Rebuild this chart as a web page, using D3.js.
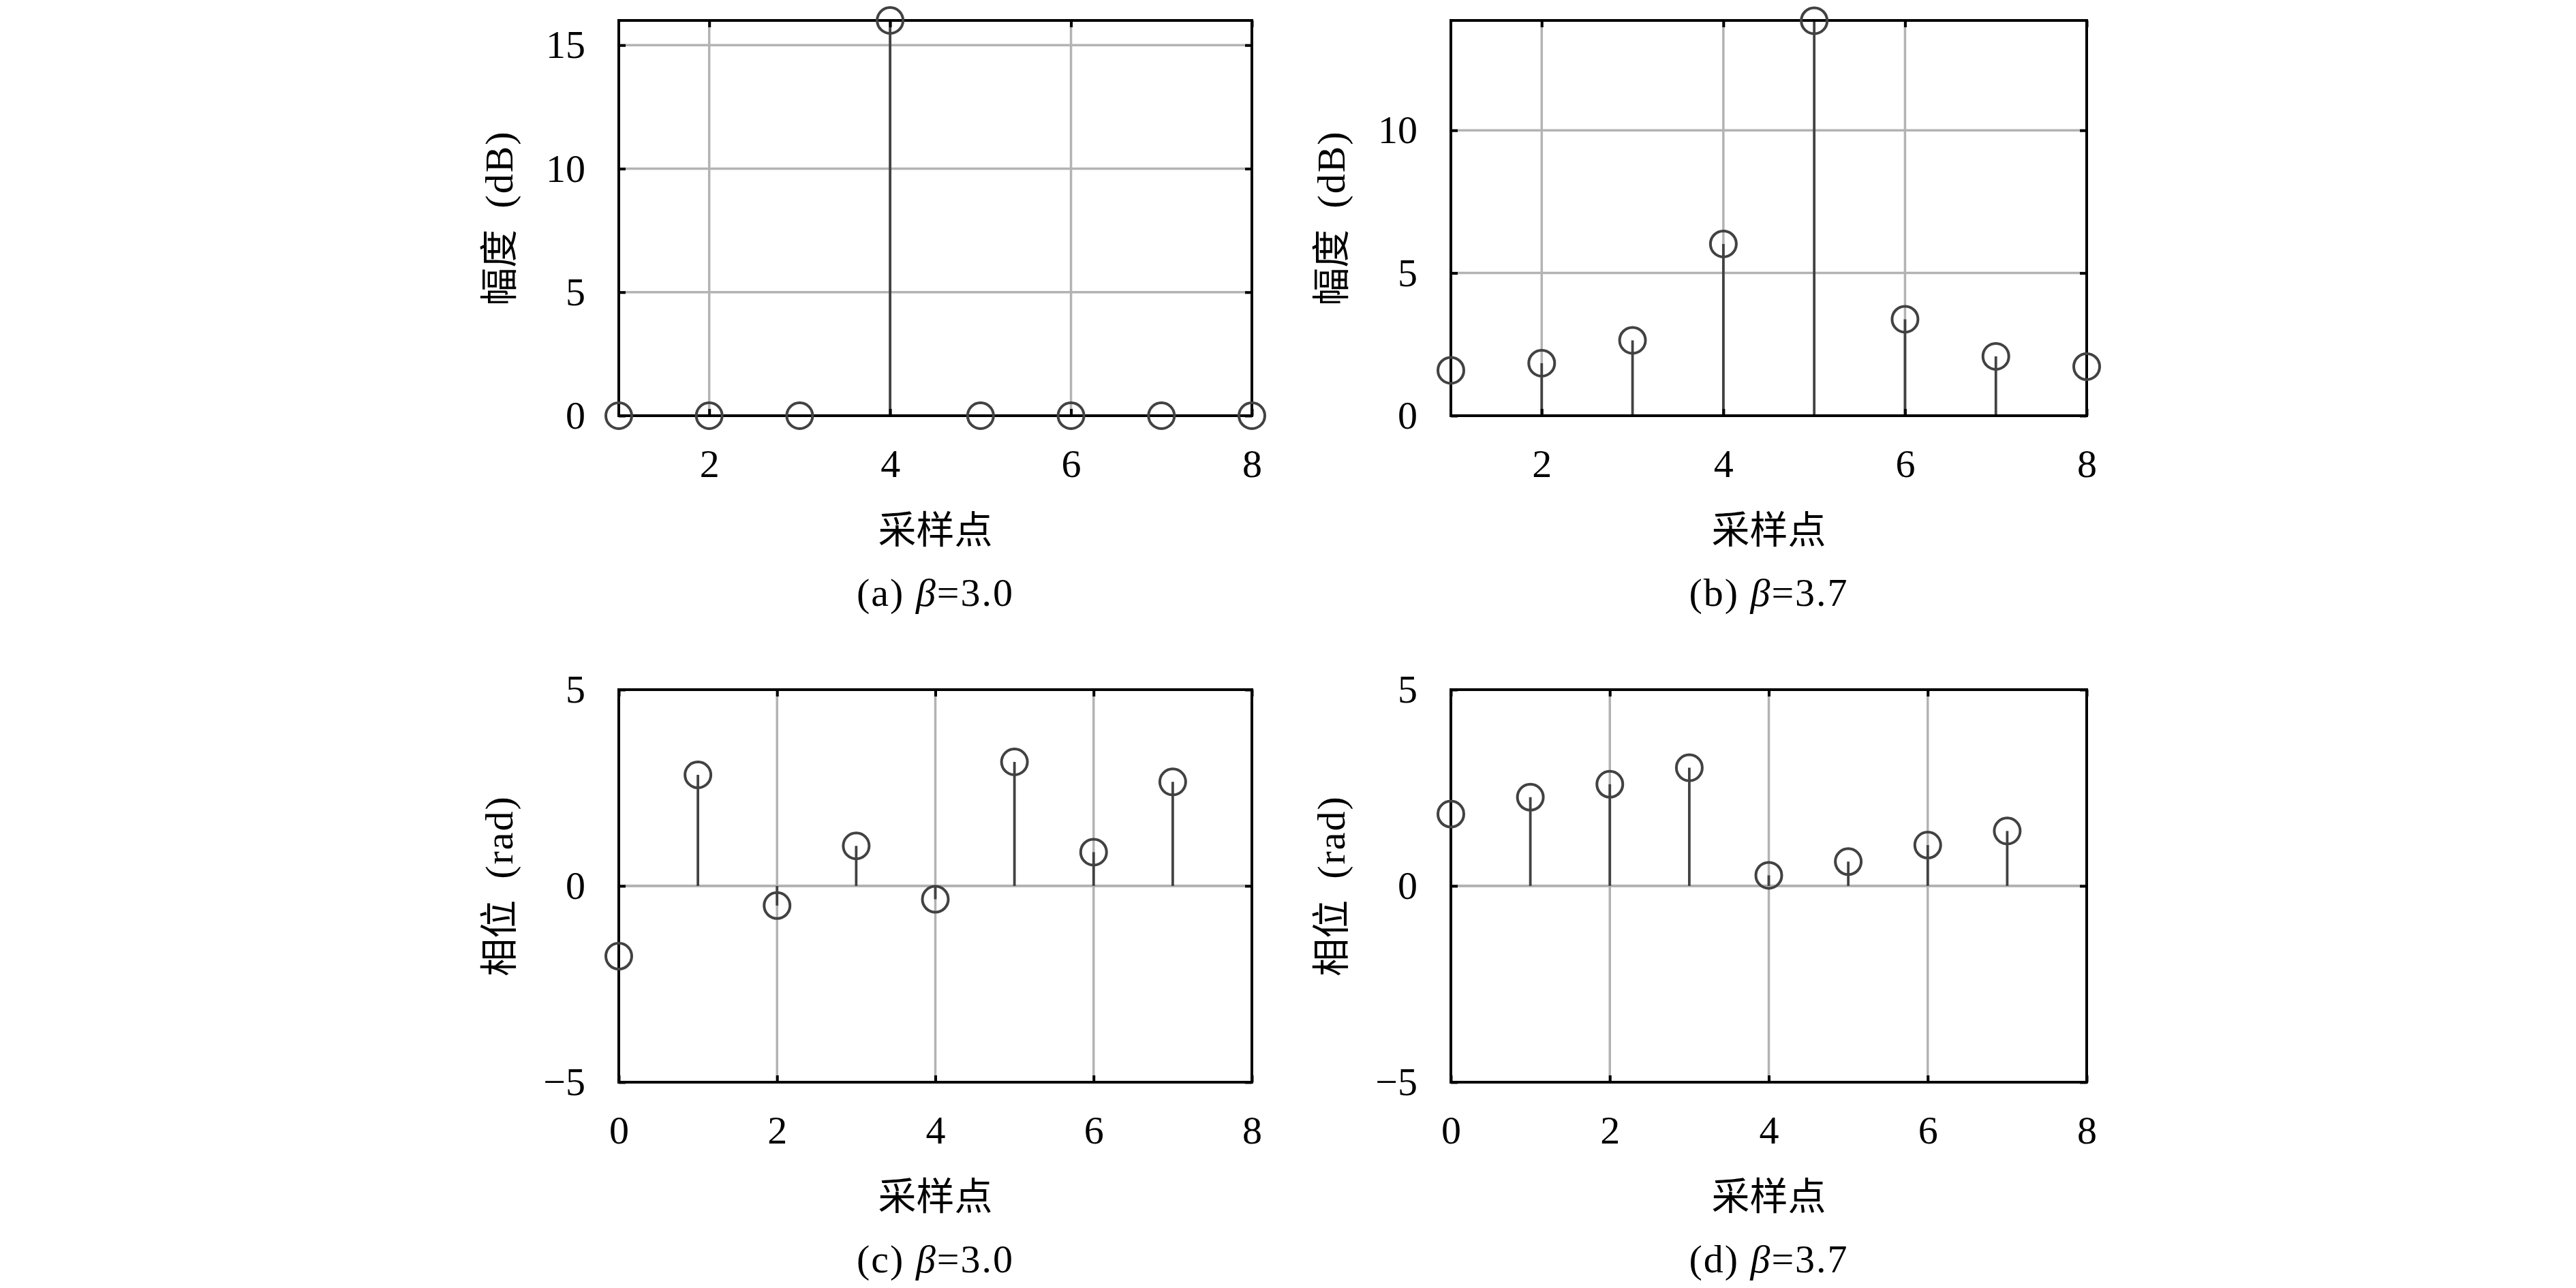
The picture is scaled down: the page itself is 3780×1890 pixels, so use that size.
<!DOCTYPE html>
<html>
<head>
<meta charset="utf-8">
<script src="https://cdn.jsdelivr.net/npm/d3@7"></script>
<style>
  html, body { margin: 0; padding: 0; background: #fff; }
  svg { display: block; }
</style>
</head>
<body>
<div id="chart"></div>
<script>
// Valores (amplitude em dB e fase em rad)
const ampX = [1, 2, 3, 4, 5, 6, 7, 8];
const ampA = [0, 0, 0, 16, 0, 0, 0, 0];
const ampB = [1.59, 1.84, 2.64, 6.02, 13.84, 3.38, 2.08, 1.72];

const phaseX = [0, 1, 2, 3, 4, 5, 6, 7];
const phaseC = [-1.79, 2.83, -0.50, 1.02, -0.34, 3.16, 0.86, 2.65];
const phaseD = [1.83, 2.26, 2.59, 3.01, 0.27, 0.62, 1.04, 1.40];

// Ticks e rótulos
const ampXTicks = [2, 4, 6, 8];
const ampYTicksA = [0, 5, 10, 15];
const ampYTicksB = [0, 5, 10];
const phaseXTicks = [0, 2, 4, 6, 8];
const phaseYTicks = [-5, 0, 5];
const xLabel = '采样点';
const ampLabel = ['幅度', '(dB)'];
const phaseLabel = ['相位', '(rad)'];
const captions = [['(a)', '3.0'], ['(b)', '3.7'], ['(c)', '3.0'], ['(d)', '3.7']];

const W = 3780, H = 1890;
const FS = 58;
const NUM_FONT = '"Liberation Serif", "DejaVu Serif", serif';
const CJK_FONT = '"Noto Sans CJK SC", sans-serif';
const STEM = '#424242';
const GRID = '#b3b3b3';

const svg = d3.select('#chart')
  .append('svg')
  .attr('width', W)
  .attr('height', H);

svg.append('rect').attr('width', W).attr('height', H).attr('fill', '#fff');

function drawPanel(box, cfg) {
  const x = d3.scaleLinear().domain(cfg.xDomain).range([box.left, box.right]);
  const y = d3.scaleLinear().domain(cfg.yDomain).range([box.bottom, box.top]);
  const g = svg.append('g');

  // Grade
  g.selectAll('.xgrid')
    .data(cfg.xGrid)
    .enter().append('line')
    .attr('x1', d => x(d)).attr('x2', d => x(d))
    .attr('y1', box.top).attr('y2', box.bottom)
    .attr('stroke', GRID).attr('stroke-width', 3.5);

  g.selectAll('.ygrid')
    .data(cfg.yGrid)
    .enter().append('line')
    .attr('x1', box.left).attr('x2', box.right)
    .attr('y1', d => y(d)).attr('y2', d => y(d))
    .attr('stroke', GRID).attr('stroke-width', 3.5);

  // Linha de base do stem (y = 0)
  g.append('line')
    .attr('x1', box.left).attr('x2', box.right)
    .attr('y1', y(0)).attr('y2', y(0))
    .attr('stroke', GRID).attr('stroke-width', 4);

  const pts = cfg.xs.map((v, i) => ({ x: v, y: cfg.ys[i] }));

  // Hastes
  g.selectAll('.stem')
    .data(pts)
    .enter().append('line')
    .attr('x1', d => x(d.x)).attr('x2', d => x(d.x))
    .attr('y1', y(0)).attr('y2', d => y(d.y))
    .attr('stroke', STEM).attr('stroke-width', 3.8);

  // Eixos (ticks para dentro nos quatro lados)
  const styleAxis = sel => {
    sel.select('.domain').remove();
    sel.selectAll('.tick line').attr('stroke', '#000').attr('stroke-width', 4);
    sel.selectAll('.tick text')
      .attr('fill', '#000')
      .style('font-family', NUM_FONT)
      .style('font-size', FS + 'px');
    sel.attr('font-size', null).attr('font-family', null);
  };

  g.append('g')
    .attr('transform', `translate(0,${box.bottom})`)
    .call(d3.axisBottom(x).tickValues(cfg.xTicks).tickSize(-10).tickPadding(49).tickFormat(d3.format('d')))
    .call(styleAxis);
  g.append('g')
    .attr('transform', `translate(0,${box.top})`)
    .call(d3.axisTop(x).tickValues(cfg.xTicks).tickSize(-10).tickFormat(''))
    .call(styleAxis);
  g.append('g')
    .attr('transform', `translate(${box.left},0)`)
    .call(d3.axisLeft(y).tickValues(cfg.yTicks).tickSize(-10).tickPadding(49)
      .tickFormat(d => d < 0 ? '\u2212' + Math.abs(d) : d))
    .call(styleAxis);
  g.append('g')
    .attr('transform', `translate(${box.right},0)`)
    .call(d3.axisRight(y).tickValues(cfg.yTicks).tickSize(-10).tickFormat(''))
    .call(styleAxis);

  // Moldura
  g.append('rect')
    .attr('x', box.left).attr('y', box.top)
    .attr('width', box.right - box.left).attr('height', box.bottom - box.top)
    .attr('fill', 'none').attr('stroke', '#000').attr('stroke-width', 4);

  // Marcadores (círculos vazados)
  g.selectAll('.pt')
    .data(pts)
    .enter().append('circle')
    .attr('cx', d => x(d.x)).attr('cy', d => y(d.y))
    .attr('r', 19)
    .attr('fill', 'none')
    .attr('stroke', STEM).attr('stroke-width', 4);

  const cx = (box.left + box.right) / 2;

  // Rótulo do eixo X
  g.append('text')
    .attr('x', cx).attr('y', box.bottom + 187)
    .attr('text-anchor', 'middle')
    .style('font-family', CJK_FONT).style('font-size', (FS - 2) + 'px')
    .text(xLabel);

  // Rótulo do eixo Y (rotacionado)
  const cy = (box.top + box.bottom) / 2;
  const yl = g.append('text')
    .attr('transform', `translate(${box.left - 177},${cy}) rotate(-90)`)
    .attr('text-anchor', 'middle')
    .attr('dy', '0.36em')
    .style('font-size', FS + 'px');
  yl.append('tspan').style('font-family', CJK_FONT).style('font-size', (FS - 2) + 'px').text(cfg.ylabel[0]);
  yl.append('tspan').style('font-family', NUM_FONT).style('letter-spacing', '2px').text('\u2002' + cfg.ylabel[1]);

  // Legenda do painel
  const cap = g.append('text')
    .attr('x', cx).attr('y', box.bottom + 279)
    .attr('text-anchor', 'middle')
    .style('font-family', NUM_FONT).style('font-size', FS + 'px')
    .style('letter-spacing', '2px');
  cap.append('tspan').text(cfg.caption[0] + '\u00a0');
  cap.append('tspan').style('font-style', 'italic').text('β');
  cap.append('tspan').text('=' + cfg.caption[1]);
}

const colL = { left: 908, right: 1837 };
const colR = { left: 2129, right: 3062 };
const rowT = { top: 30, bottom: 610 };
const rowB = { top: 1012, bottom: 1588 };

drawPanel({ ...colL, ...rowT }, {
  xDomain: [1, 8], yDomain: [0, 16], xTicks: ampXTicks, yTicks: ampYTicksA,
  xGrid: [2, 4, 6], yGrid: [5, 10, 15], xs: ampX, ys: ampA,
  ylabel: ampLabel, caption: captions[0]
});
drawPanel({ ...colR, ...rowT }, {
  xDomain: [1, 8], yDomain: [0, 13.85], xTicks: ampXTicks, yTicks: ampYTicksB,
  xGrid: [2, 4, 6], yGrid: [5, 10], xs: ampX, ys: ampB,
  ylabel: ampLabel, caption: captions[1]
});
drawPanel({ ...colL, ...rowB }, {
  xDomain: [0, 8], yDomain: [-5, 5], xTicks: phaseXTicks, yTicks: phaseYTicks,
  xGrid: [2, 4, 6], yGrid: [], xs: phaseX, ys: phaseC,
  ylabel: phaseLabel, caption: captions[2]
});
drawPanel({ ...colR, ...rowB }, {
  xDomain: [0, 8], yDomain: [-5, 5], xTicks: phaseXTicks, yTicks: phaseYTicks,
  xGrid: [2, 4, 6], yGrid: [], xs: phaseX, ys: phaseD,
  ylabel: phaseLabel, caption: captions[3]
});
</script>
</body>
</html>
